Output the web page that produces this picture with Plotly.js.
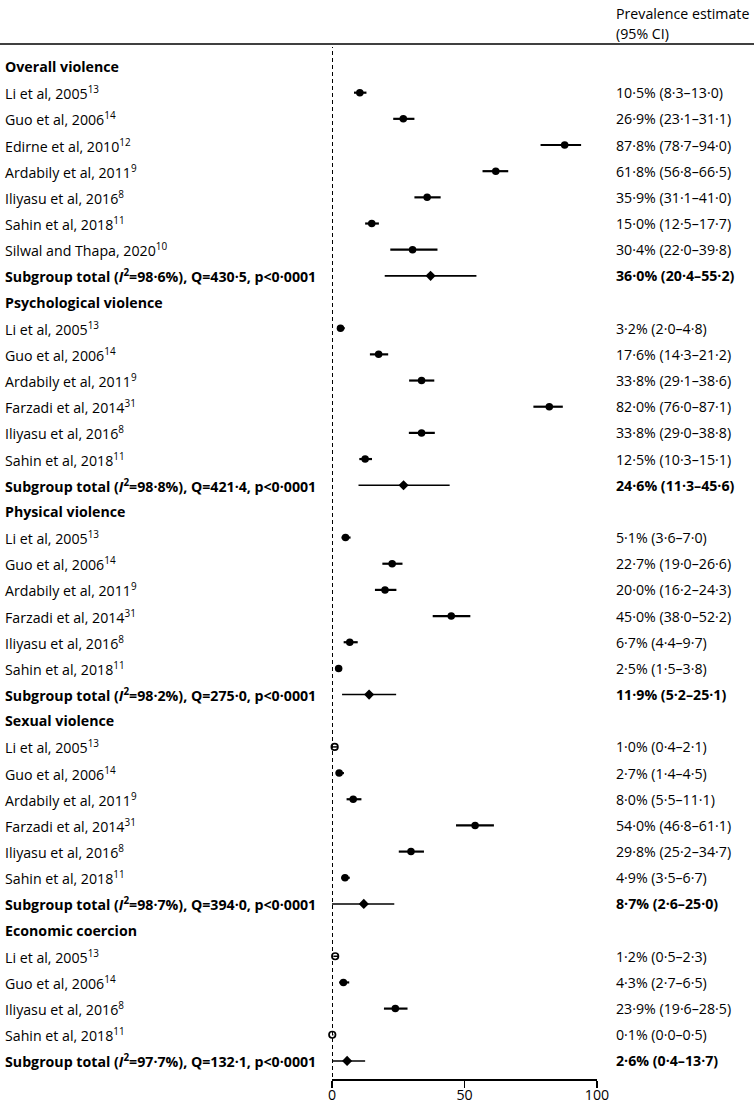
<!DOCTYPE html>
<html>
<head>
<meta charset="utf-8">
<script src="https://cdn.plot.ly/plotly-3.0.1.min.js"></script>
<style>html,body{margin:0;padding:0;background:#fff;}#chart{width:754px;height:1104px;}</style>
</head>
<body>
<div id="chart"></div>
<script>
// ---------------- DATA ----------------
const groupNames = ['Overall violence', 'Psychological violence', 'Physical violence', 'Sexual violence', 'Economic coercion'];

const overallStudies = ['Li et al, 2005<sup>13</sup>', 'Guo et al, 2006<sup>14</sup>', 'Edirne et al, 2010<sup>12</sup>', 'Ardabily et al, 2011<sup>9</sup>', 'Iliyasu et al, 2016<sup>8</sup>', 'Sahin et al, 2018<sup>11</sup>', 'Silwal and Thapa, 2020<sup>10</sup>'];
const overallEst = [10.5, 26.9, 87.8, 61.8, 35.9, 15.0, 30.4];
const overallLo  = [8.3, 23.1, 78.7, 56.8, 31.1, 12.5, 22.0];
const overallHi  = [13.0, 31.1, 94.0, 66.5, 41.0, 17.7, 39.8];
const overallHollow = [false, false, false, false, false, false, false];

const psychStudies = ['Li et al, 2005<sup>13</sup>', 'Guo et al, 2006<sup>14</sup>', 'Ardabily et al, 2011<sup>9</sup>', 'Farzadi et al, 2014<sup>31</sup>', 'Iliyasu et al, 2016<sup>8</sup>', 'Sahin et al, 2018<sup>11</sup>'];
const psychEst = [3.2, 17.6, 33.8, 82.0, 33.8, 12.5];
const psychLo  = [2.0, 14.3, 29.1, 76.0, 29.0, 10.3];
const psychHi  = [4.8, 21.2, 38.6, 87.1, 38.8, 15.1];
const psychHollow = [false, false, false, false, false, false];

const physStudies = ['Li et al, 2005<sup>13</sup>', 'Guo et al, 2006<sup>14</sup>', 'Ardabily et al, 2011<sup>9</sup>', 'Farzadi et al, 2014<sup>31</sup>', 'Iliyasu et al, 2016<sup>8</sup>', 'Sahin et al, 2018<sup>11</sup>'];
const physEst = [5.1, 22.7, 20.0, 45.0, 6.7, 2.5];
const physLo  = [3.6, 19.0, 16.2, 38.0, 4.4, 1.5];
const physHi  = [7.0, 26.6, 24.3, 52.2, 9.7, 3.8];
const physHollow = [false, false, false, false, false, false];

const sexStudies = ['Li et al, 2005<sup>13</sup>', 'Guo et al, 2006<sup>14</sup>', 'Ardabily et al, 2011<sup>9</sup>', 'Farzadi et al, 2014<sup>31</sup>', 'Iliyasu et al, 2016<sup>8</sup>', 'Sahin et al, 2018<sup>11</sup>'];
const sexEst = [1.0, 2.7, 8.0, 54.0, 29.8, 4.9];
const sexLo  = [0.4, 1.4, 5.5, 46.8, 25.2, 3.5];
const sexHi  = [2.1, 4.5, 11.1, 61.1, 34.7, 6.7];
const sexHollow = [true, false, false, false, false, false];

const econStudies = ['Li et al, 2005<sup>13</sup>', 'Guo et al, 2006<sup>14</sup>', 'Iliyasu et al, 2016<sup>8</sup>', 'Sahin et al, 2018<sup>11</sup>'];
const econEst = [1.2, 4.3, 23.9, 0.1];
const econLo  = [0.5, 2.7, 19.6, 0.0];
const econHi  = [2.3, 6.5, 28.5, 0.5];
const econHollow = [true, false, false, true];

// pooled (subgroup total) values as reported in the text column
const pooledEst = [36.0, 24.6, 11.9, 8.7, 2.6];
const pooledLo  = [20.4, 11.3, 5.2, 2.6, 0.4];
const pooledHi  = [55.2, 45.6, 25.1, 25.0, 13.7];
const pooledI2  = [98.6, 98.8, 98.2, 98.7, 97.7];
const pooledQ   = [430.5, 421.4, 275.0, 394.0, 132.1];
// pooled diamonds and intervals as drawn in the figure
const pooledMark   = [37.2, 27.0, 14.0, 12.0, 5.7];
const pooledDrawLo = [19.9, 10.0, 3.8, 0.0, 0.0];
const pooledDrawHi = [54.5, 44.4, 24.2, 23.5, 12.5];

const xTicks = [0, 50, 100];
const headerLines = ['Prevalence estimate', '(95% CI)'];

// ---------------- BUILD ----------------
const groups = [
  [overallStudies, overallEst, overallLo, overallHi, overallHollow],
  [psychStudies, psychEst, psychLo, psychHi, psychHollow],
  [physStudies, physEst, physLo, physHi, physHollow],
  [sexStudies, sexEst, sexLo, sexHi, sexHollow],
  [econStudies, econEst, econLo, econHi, econHollow]
];
const fmt = v => v.toFixed(1).replace('.', '\u00B7');
const FONT = 'Open Sans, Lato, sans-serif';
const FS = 14.2;
const LX = (3 - 332) / 265;     // left label column (paper units)
const RX = (614 - 332) / 265;   // right text column

const solid = {x: [], y: [], lo: [], hi: []};
const hollow = {x: [], y: [], lo: [], hi: []};
const pooled = {x: [], y: [], lo: [], hi: []};
const annotations = [];
const txt = (x, y, text, xref, yref) => ({xref: xref || 'paper', yref: yref || 'y', x: x, y: y, xanchor: 'left', yanchor: 'middle',
  showarrow: false, text: text, font: {family: FONT, size: FS, color: '#000'}});
let row = 1;
groups.forEach((g, gi) => {
  const [names, est, lo, hi, hol] = g;
  annotations.push(txt(LX, row, '<b>' + groupNames[gi] + '</b>'));
  row++;
  names.forEach((n, i) => {
    const t = hol[i] ? hollow : solid;
    t.x.push(est[i]); t.y.push(row); t.lo.push(est[i] - lo[i]); t.hi.push(hi[i] - est[i]);
    annotations.push(txt(LX, row, n));
    annotations.push(txt(RX, row, fmt(est[i]) + '% (' + fmt(lo[i]) + '\u2013' + fmt(hi[i]) + ')'));
    row++;
  });
  pooled.x.push(pooledMark[gi]); pooled.y.push(row);
  pooled.lo.push(pooledMark[gi] - pooledDrawLo[gi]); pooled.hi.push(pooledDrawHi[gi] - pooledMark[gi]);
  annotations.push(txt(LX, row, '<b>Subgroup total (<i>I</i><sup>2</sup>=' + fmt(pooledI2[gi]) + '%), Q=' + fmt(pooledQ[gi]) + ', p&lt;0\u00B70001</b>'));
  annotations.push(txt(RX, row, '<b>' + fmt(pooledEst[gi]) + '% (' + fmt(pooledLo[gi]) + '\u2013' + fmt(pooledHi[gi]) + ')</b>'));
  row++;
});

annotations.push(txt(RX, 1 + (44 - 13) / 1035, headerLines[0], 'paper', 'paper'));
annotations.push(txt(RX, 1 + (44 - 33) / 1035, headerLines[1], 'paper', 'paper'));

const mk = (d, symbol, size, thick, lineW) => ({
  type: 'scatter', mode: 'markers', x: d.x, y: d.y, cliponaxis: false, hoverinfo: 'skip',
  marker: {symbol: symbol, size: size, color: '#000', line: {color: '#000', width: lineW}},
  error_x: {type: 'data', symmetric: false, array: d.hi, arrayminus: d.lo, width: 0, thickness: thick, color: '#000'}
});

const data = [
  mk(solid, 'circle', 7.5, 2.2, 0),
  mk(hollow, 'circle-open', 6.5, 1.5, 1.7),
  mk(pooled, 'diamond', 7.8, 1.6, 0)
];

const layout = {
  width: 754, height: 1104,
  margin: {l: 332, r: 157, t: 44, b: 25, pad: 0},
  paper_bgcolor: '#fff', plot_bgcolor: '#fff',
  showlegend: false,
  font: {family: FONT, size: FS, color: '#000'},
  xaxis: {range: [0, 100], tickvals: xTicks, ticktext: xTicks.map(String), ticks: 'outside', ticklen: 7, tickwidth: 1.5,
    tickcolor: '#000', showline: true, linecolor: '#000', linewidth: 1.5, showgrid: false, zeroline: false,
    ticklabelstandoff: -5,
    tickfont: {family: FONT, size: FS, color: '#000'}, fixedrange: true},
  yaxis: {range: [39.69, 0.14], visible: false, showgrid: false, zeroline: false, fixedrange: true},
  annotations: annotations,
  shapes: [
    {type: 'line', xref: 'paper', yref: 'paper', x0: -332 / 265, x1: 422 / 265, y0: 1, y1: 1, line: {color: '#000', width: 1.6}},
    {type: 'line', xref: 'x', yref: 'paper', x0: 0, x1: 0, y0: 2 / 1035, y1: 1 - 3 / 1035, line: {color: '#000', width: 2, dash: '4px,3px'}}
  ]
};

Plotly.newPlot('chart', data, layout, {displayModeBar: false, staticPlot: true});
</script>
</body>
</html>
